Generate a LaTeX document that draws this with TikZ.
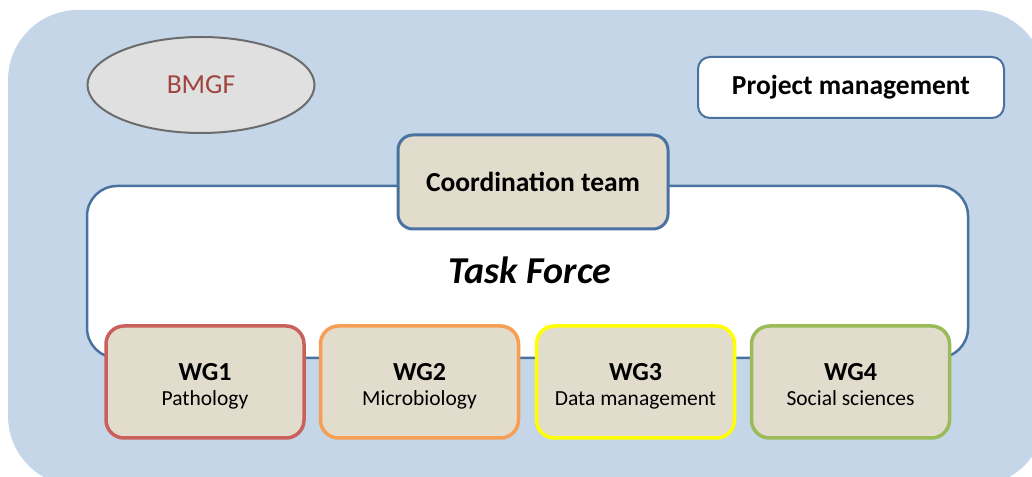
\documentclass[tikz,border=0pt]{standalone}
\usepackage{fontspec}
\setmainfont{Carlito}
\usetikzlibrary{shapes.geometric}
\definecolor{bgblue}{HTML}{C4D6E8}
\definecolor{edgeblue}{HTML}{4A72A0}
\definecolor{beige}{HTML}{E2DCCC}
\definecolor{wgred}{HTML}{C9605C}
\definecolor{wgorange}{HTML}{F79E55}
\definecolor{wgyellow}{HTML}{FFFF00}
\definecolor{wggreen}{HTML}{9BBB59}
\definecolor{bmgftext}{HTML}{A0443F}
\tikzset{
  wgbox/.style={draw, line width=3.5pt, fill=beige, rounded corners=18pt,
    minimum width=198pt, minimum height=112pt, align=center, inner sep=0pt},
  wgtitle/.style={anchor=base, inner sep=0pt, font=\fontsize{26}{30}\selectfont\bfseries},
  wgsub/.style={anchor=base, inner sep=0pt, font=\fontsize{21.5}{25}\selectfont},
}
\begin{document}
\begin{tikzpicture}[x=1pt,y=1pt]
\useasboundingbox (0,0) rectangle (1032,476);
% outer panel
\fill[bgblue, rounded corners=70pt] (8,-10) rectangle (1045,466);
% task force frame
\node[draw=edgeblue, line width=2.5pt, fill=white, rounded corners=30pt,
  minimum width=881pt, minimum height=172pt, inner sep=0pt] (tf) at (527.5,204) {};
\node[font=\fontsize{38}{42}\selectfont\bfseries\itshape] (tflabel) at (530,206) {Task Force};
% coordination team
\node[draw=edgeblue, line width=3pt, fill=beige, rounded corners=15pt,
  minimum width=270pt, minimum height=94pt, inner sep=0pt,
  font=\fontsize{27.5}{31}\selectfont\bfseries] (coord) at (533,294) {Coordination team};
% funder
\node[ellipse, draw=gray!85!black, line width=2pt, fill=black!12,
  minimum width=227pt, minimum height=96pt, inner sep=0pt,
  text=bmgftext, font=\fontsize{27.5}{31}\selectfont] (bmgf) at (201,391) {BMGF};
% project management
\node[draw=edgeblue, line width=2pt, fill=white, rounded corners=12pt,
  minimum width=306pt, minimum height=61pt, inner sep=0pt,
  font=\fontsize{27.5}{31}\selectfont\bfseries] (pm) at (851,388.5) {Project management};
% working groups
\node[wgbox, draw=wgred] (wg1) at (205,94) {};
\node[wgbox, draw=wgorange] (wg2) at (419.5,94) {};
\node[wgbox, draw=wgyellow] (wg3) at (635.5,94) {};
\node[wgbox, draw=wggreen] (wg4) at (850.5,94) {};
\foreach \n/\t/\s in {wg1/WG1/Pathology, wg2/WG2/Microbiology, wg3/WG3/Data management, wg4/WG4/Social sciences}{
  \node[wgtitle] (\n t) at ([yshift=1pt]\n.center) {\t};
  \node[wgsub] (\n s) at ([yshift=-24pt]\n.center) {\s};
}
\end{tikzpicture}
\end{document}
